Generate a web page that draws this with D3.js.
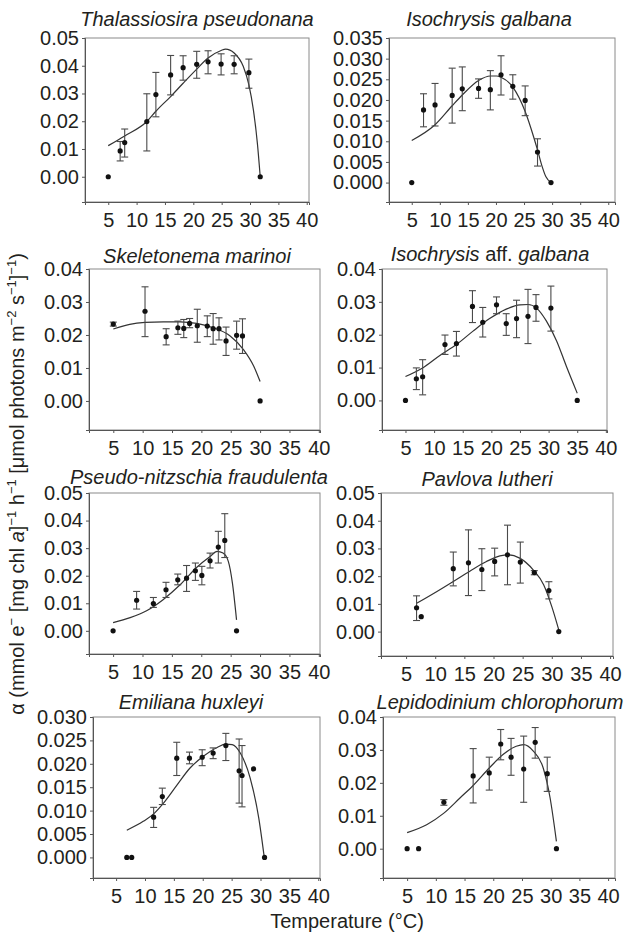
<!DOCTYPE html>
<html>
<head>
<meta charset="utf-8">
<script src="https://cdn.jsdelivr.net/npm/d3@7"></script>
<style>
  body { margin: 0; background: #fff; }
  text { font-family: "Liberation Sans", Arial, sans-serif; fill: #231f20; }
</style>
</head>
<body>
<svg id="chart" width="627" height="934" viewBox="0 0 627 934"></svg>
<script>
// ---- data (temperature in degC, alpha) ----
const xTicks = [5, 10, 15, 20, 25, 30, 35, 40];

// Thalassiosira pseudonana
const tpTemp  = [5, 7.1, 7.9, 11.8, 13.4, 16.0, 18.2, 20.6, 22.6, 24.9, 27.2, 29.8, 31.8];
const tpAlpha = [0, 0.0093, 0.0123, 0.0199, 0.0296, 0.0367, 0.0393, 0.0405, 0.0414, 0.0406, 0.0405, 0.0375, 0];
const tpLo    = [null, 0.0057, 0.0071, 0.0093, 0.0216, 0.0295, 0.0348, 0.0355, 0.0371, 0.0367, 0.0371, 0.0319, null];
const tpHi    = [null, 0.0127, 0.0172, 0.0299, 0.0376, 0.0437, 0.0436, 0.0452, 0.0454, 0.0443, 0.0436, 0.0424, null];
const tpFitT  = [5, 7.9, 11.8, 13.4, 16, 18.2, 20.6, 22.6, 24.9, 25.7, 27.2, 28.8, 29.8, 30.6, 31.3, 31.8];
const tpFitA  = [0.0112, 0.0147, 0.0199, 0.0236, 0.0289, 0.0337, 0.0388, 0.0428, 0.0455, 0.046, 0.0446, 0.0398, 0.0331, 0.024, 0.012, 0];

// Isochrysis galbana
const igTemp  = [5, 7.1, 9.15, 12.2, 14.0, 16.9, 19.0, 20.9, 23.0, 25.2, 27.4, 29.8];
const igAlpha = [0, 0.0176, 0.0188, 0.0211, 0.0227, 0.0228, 0.0225, 0.0261, 0.0233, 0.0199, 0.0074, 0];
const igLo    = [null, 0.0135, 0.0137, 0.0144, 0.0174, 0.0204, 0.0176, 0.0212, 0.0202, 0.0162, 0.004, null];
const igHi    = [null, 0.0215, 0.024, 0.0277, 0.028, 0.0251, 0.0271, 0.0307, 0.0261, 0.0234, 0.0106, null];
const igFitT  = [5, 9.15, 12.2, 14, 16.9, 19, 20.1, 20.9, 23, 25.2, 26.7, 27.4, 28.2, 28.9, 29.8];
const igFitA  = [0.0102, 0.014, 0.0186, 0.0212, 0.0247, 0.0258, 0.0258, 0.0255, 0.0231, 0.0172, 0.0111, 0.0079, 0.004, 0.0014, 0];

// Skeletonema marinoi
const smTemp  = [5, 10.4, 14.0, 16.0, 17.0, 18.0, 19.3, 21.0, 22.0, 23.0, 24.2, 26.0, 27.0, 30.0];
const smAlpha = [0.0233, 0.0272, 0.0195, 0.0222, 0.022, 0.0235, 0.0228, 0.0227, 0.0219, 0.0219, 0.0182, 0.0199, 0.0197, 0];
const smLo    = [0.0227, 0.0195, 0.017, 0.0202, 0.0192, 0.0222, 0.0178, 0.0195, 0.0172, 0.0185, 0.0138, 0.0157, 0.0144, null];
const smHi    = [0.0239, 0.0346, 0.0219, 0.0242, 0.0247, 0.025, 0.0278, 0.0258, 0.0265, 0.0252, 0.0224, 0.0242, 0.0249, null];
const smFitT  = [5, 7.8, 10.4, 13.5, 16.4, 19.2, 22, 24.9, 27.2, 28.9, 30];
const smFitA  = [0.0218, 0.0232, 0.0238, 0.024, 0.024, 0.0235, 0.0222, 0.0197, 0.0155, 0.0106, 0.0059];

// Isochrysis aff. galbana
const iaTemp  = [5, 6.9, 8.0, 11.9, 13.9, 16.7, 18.5, 20.9, 22.6, 24.4, 26.4, 27.8, 30.4, 35];
const iaAlpha = [0, 0.0066, 0.0072, 0.017, 0.0173, 0.0286, 0.0238, 0.0291, 0.0234, 0.0249, 0.0256, 0.0283, 0.0281, 0];
const iaLo    = [null, 0.0033, 0.0017, 0.014, 0.0135, 0.0237, 0.0193, 0.0264, 0.0198, 0.0191, 0.0173, 0.0241, 0.0211, null];
const iaHi    = [null, 0.0099, 0.0124, 0.0199, 0.021, 0.0334, 0.0283, 0.0315, 0.0264, 0.0305, 0.0338, 0.0322, 0.0348, null];
const iaFitT  = [5, 8, 11, 13.9, 16.8, 19.7, 22.6, 25, 26.4, 27.9, 29.6, 31.4, 33.1, 35];
const iaFitA  = [0.0073, 0.0099, 0.0137, 0.017, 0.0211, 0.0249, 0.0278, 0.0291, 0.0292, 0.0281, 0.0242, 0.0181, 0.0104, 0.0022];

// Pseudo-nitzschia fraudulenta
const pfTemp  = [5, 9.0, 11.85, 14.0, 16.0, 17.5, 19.0, 20.1, 21.5, 22.9, 24.0, 26];
const pfAlpha = [0, 0.0111, 0.0099, 0.0149, 0.0185, 0.0191, 0.0218, 0.0201, 0.0254, 0.0304, 0.0328, 0];
const pfLo    = [null, 0.0079, 0.0085, 0.0121, 0.0167, 0.0143, 0.0183, 0.0167, 0.0228, 0.0246, 0.0266, null];
const pfHi    = [null, 0.0143, 0.0121, 0.0176, 0.0206, 0.0237, 0.0246, 0.0234, 0.0282, 0.0361, 0.0425, null];
const pfFitT  = [5, 7.9, 10.7, 13.5, 16.4, 19.2, 21.5, 22.7, 23.7, 24.6, 25.3, 26];
const pfFitA  = [0.003, 0.0048, 0.0073, 0.0113, 0.0167, 0.023, 0.027, 0.0288, 0.0282, 0.0252, 0.0173, 0.004];

// Pavlova lutheri
const plTemp  = [6.8, 7.6, 13.1, 15.7, 18.0, 20.2, 22.4, 24.6, 27.0, 29.5, 31.2];
const plAlpha = [0.0086, 0.0054, 0.0227, 0.0248, 0.0224, 0.0253, 0.0277, 0.0251, 0.0213, 0.0148, 0];
const plLo    = [0.004, null, 0.0165, 0.013, 0.0148, 0.0201, 0.0169, 0.0175, 0.0205, 0.0118, null];
const plHi    = [0.0129, null, 0.0287, 0.0367, 0.0299, 0.0301, 0.0384, 0.0323, 0.022, 0.018, null];
const plFitT  = [6.8, 10.3, 13.1, 16, 18.8, 21.1, 22.6, 24.5, 26.8, 28.6, 30, 31.2];
const plFitA  = [0.0102, 0.0145, 0.0181, 0.0219, 0.0253, 0.0273, 0.0277, 0.0265, 0.0223, 0.0169, 0.009, 0.0006];

// Emiliana huxleyi
const ehTemp  = [6.85, 7.7, 11.5, 13.0, 15.5, 17.7, 19.9, 21.8, 24.0, 26.3, 26.8, 28.8, 30.7];
const ehAlpha = [0, 0, 0.0086, 0.013, 0.0212, 0.0212, 0.0214, 0.0223, 0.0239, 0.0185, 0.0175, 0.0189, 0];
const ehLo    = [null, null, 0.0064, 0.0113, 0.0175, 0.02, 0.0196, 0.0211, 0.0207, 0.0116, 0.0108, null, null];
const ehHi    = [null, null, 0.0107, 0.0148, 0.0246, 0.0225, 0.023, 0.0234, 0.0265, 0.0253, 0.0239, null, null];
const ehFitT  = [6.85, 9.7, 11.5, 13.2, 15.5, 17.8, 20.1, 22.5, 24, 25.1, 26.5, 28.2, 29.7, 30.6];
const ehFitA  = [0.0058, 0.0077, 0.0093, 0.0116, 0.0154, 0.0191, 0.0216, 0.0235, 0.0242, 0.0241, 0.0223, 0.017, 0.0084, 0.0005];

// Lepidodinium chlorophorum
const lcTemp  = [5, 7.0, 11.4, 16.5, 19.3, 21.3, 23.1, 25.3, 27.3, 29.4, 31.0];
const lcAlpha = [0, 0, 0.0141, 0.0221, 0.023, 0.0318, 0.0278, 0.0242, 0.0323, 0.0228, 0];
const lcLo    = [null, null, 0.0132, 0.0139, 0.0178, 0.027, 0.0223, 0.0141, 0.0275, 0.0174, null];
const lcHi    = [null, null, 0.0149, 0.0304, 0.0278, 0.0362, 0.0335, 0.0342, 0.0368, 0.0278, null];
const lcFitT  = [5, 8.4, 11.4, 14.2, 16.5, 19.3, 21.7, 24, 25.3, 26.9, 28.7, 29.9, 31];
const lcFitA  = [0.0049, 0.0073, 0.0108, 0.0154, 0.0192, 0.0245, 0.0286, 0.0311, 0.0316, 0.0298, 0.0245, 0.0154, 0.0022];

// ---- panel layout ----
const panels = [
  { title: [["Thalassiosira pseudonana", true]], tx: 197, ty: 26, box: [85, 309, 38, 202], xd: [0.9, 40.4], yd: [-0.0091, 0.05], step: 0.01, fmt: ".2f",
    T: tpTemp, A: tpAlpha, lo: tpLo, hi: tpHi, fT: tpFitT, fA: tpFitA },
  { title: [["Isochrysis galbana", true]], tx: 489, ty: 26, box: [389, 615, 38, 202], xd: [0.95, 41.2], yd: [-0.0047, 0.035], step: 0.005, fmt: ".3f",
    T: igTemp, A: igAlpha, lo: igLo, hi: igHi, fT: igFitT, fA: igFitA },
  { title: [["Skeletonema marinoi", true]], tx: 197, ty: 263, box: [89, 320, 269, 430], xd: [0.86, 40.2], yd: [-0.0088, 0.04], step: 0.01, fmt: ".2f",
    T: smTemp, A: smAlpha, lo: smLo, hi: smHi, fT: smFitT, fA: smFitA },
  { title: [["Isochrysis", true], [" aff. ", false], ["galbana", true]], tx: 490, ty: 261, box: [382, 607, 269, 430], xd: [0.9, 40.2], yd: [-0.009, 0.04], step: 0.01, fmt: ".2f",
    T: iaTemp, A: iaAlpha, lo: iaLo, hi: iaHi, fT: iaFitT, fA: iaFitA },
  { title: [["Pseudo-nitzschia fraudulenta", true]], tx: 199, ty: 484, box: [89, 320, 493, 654], xd: [0.9, 40.2], yd: [-0.0084, 0.05], step: 0.01, fmt: ".2f",
    T: pfTemp, A: pfAlpha, lo: pfLo, hi: pfHi, fT: pfFitT, fA: pfFitA },
  { title: [["Pavlova lutheri", true]], tx: 487, ty: 486, box: [381, 613, 493, 656], xd: [0.7, 40.5], yd: [-0.0088, 0.05], step: 0.01, fmt: ".2f",
    T: plTemp, A: plAlpha, lo: plLo, hi: plHi, fT: plFitT, fA: plFitA },
  { title: [["Emiliana huxleyi", true]], tx: 191, ty: 709, box: [93, 320, 717, 878], xd: [1.0, 40.3], yd: [-0.0044, 0.03], step: 0.005, fmt: ".3f",
    T: ehTemp, A: ehAlpha, lo: ehLo, hi: ehHi, fT: ehFitT, fA: ehFitA },
  { title: [["Lepidodinium chlorophorum", true]], tx: 500, ty: 709, box: [383, 615, 717, 878], xd: [0.8, 41.2], yd: [-0.0089, 0.04], step: 0.01, fmt: ".2f",
    T: lcTemp, A: lcAlpha, lo: lcLo, hi: lcHi, fT: lcFitT, fA: lcFitA }
];

const svg = d3.select("#chart");
const FS = 20;

panels.forEach(p => {
  const [l, r, t, b] = p.box;
  const x = d3.scaleLinear().domain(p.xd).range([l, r]);
  const y = d3.scaleLinear().domain(p.yd).range([b, t]);
  const g = svg.append("g");

  // frame
  g.append("rect")
    .attr("x", l).attr("y", t).attr("width", r - l).attr("height", b - t)
    .attr("fill", "none").attr("stroke", "#8a8a8a").attr("stroke-width", 1);

  const yTicks = d3.range(0, p.yd[1] + p.step / 2, p.step);
  const yAxis = g.append("g")
    .attr("transform", `translate(${l},0)`)
    .call(d3.axisLeft(y).tickValues(yTicks).tickFormat(d3.format(p.fmt)).tickSize(3).tickPadding(3));
  const xAxis = g.append("g")
    .attr("transform", `translate(0,${b})`)
    .call(d3.axisBottom(x).tickValues(xTicks).tickSize(3).tickPadding(8));
  [yAxis, xAxis].forEach(a => {
    a.select(".domain").attr("stroke", "#555");
    a.selectAll(".tick line").attr("stroke", "#555");
    a.selectAll(".tick text")
      .attr("font-size", FS)
      .attr("font-family", '"Liberation Sans", Arial, sans-serif')
      .attr("fill", "#231f20");
  });

  // title
  const title = g.append("text")
    .attr("x", p.tx).attr("y", p.ty)
    .attr("text-anchor", "middle")
    .attr("font-size", FS);
  p.title.forEach(([s, it]) => {
    title.append("tspan").attr("font-style", it ? "italic" : "normal").text(s);
  });

  // fitted curve
  const fit = p.fT.map((v, i) => [v, p.fA[i]]);
  g.append("path")
    .datum(fit)
    .attr("fill", "none")
    .attr("stroke", "#333")
    .attr("stroke-width", 1.2)
    .attr("d", d3.line().x(d => x(d[0])).y(d => y(d[1])).curve(d3.curveMonotoneX));

  // error bars
  const pts = p.T.map((v, i) => ({ t: v, a: p.A[i], lo: p.lo[i], hi: p.hi[i] }));
  const eb = g.append("g").attr("stroke", "#4a4a4a").attr("stroke-width", 1.1);
  pts.filter(d => d.lo != null).forEach(d => {
    const cx = x(d.t);
    eb.append("line").attr("x1", cx).attr("x2", cx).attr("y1", y(d.lo)).attr("y2", y(d.hi));
    eb.append("line").attr("x1", cx - 3.5).attr("x2", cx + 3.5).attr("y1", y(d.lo)).attr("y2", y(d.lo));
    eb.append("line").attr("x1", cx - 3.5).attr("x2", cx + 3.5).attr("y1", y(d.hi)).attr("y2", y(d.hi));
  });

  // points
  g.append("g").selectAll("circle")
    .data(pts)
    .enter()
    .append("circle")
    .attr("cx", d => x(d.t))
    .attr("cy", d => y(d.a))
    .attr("r", 2.6)
    .attr("fill", "#111");
});

// axis titles
svg.append("text")
  .attr("x", 347).attr("y", 928)
  .attr("text-anchor", "middle")
  .attr("font-size", FS)
  .text("Temperature (°C)");

const ylab = svg.append("text")
  .attr("transform", "translate(24,484) rotate(-90)")
  .attr("text-anchor", "middle")
  .attr("font-size", FS);
const parts = [
  ["α (mmol e", 0], ["−", 1], [" [mg chl ", 0], ["a", 2], ["]", 0], ["−1", 1], [" h", 0], ["−1", 1],
  [" [μmol photons m", 0], ["−2", 1], [" s", 0], ["−1", 1], ["]", 0], ["−1", 1], [")", 0]
];
let up = false;
parts.forEach(([s, k]) => {
  const ts = ylab.append("tspan").text(s);
  if (k === 1) {
    ts.attr("font-size", 13).attr("dy", up ? 0 : -8);
    up = true;
  } else {
    if (up) ts.attr("dy", 8);
    up = false;
    if (k === 2) ts.attr("font-style", "italic");
  }
});
</script>
</body>
</html>
